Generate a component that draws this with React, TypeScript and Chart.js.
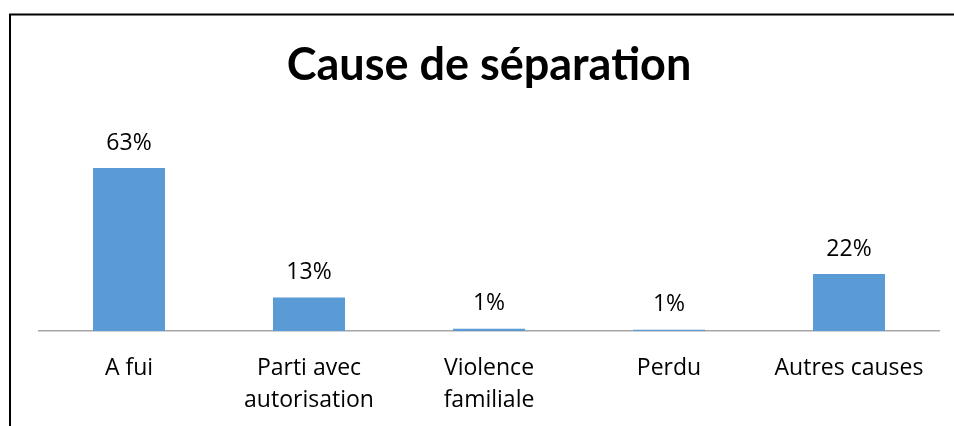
import React, { useEffect, useRef } from "react";
import { Chart, registerables } from "chart.js";

Chart.register(...registerables);

const title = "Cause de séparation";
const categories: (string | string[])[] = [
  "A fui",
  ["Parti avec", "autorisation"],
  ["Violence", "familiale"],
  "Perdu",
  "Autres causes",
];
const values = [63, 13, 0.9, 0.5, 22];
const yMax = 70;

const TITLE_FONT = "Lato, 'Noto Sans', sans-serif";
const FONT = "'Open Sans', 'Noto Sans', sans-serif";

const framePlugin = {
  id: "frame",
  beforeDraw(chart: any) {
    const ctx = chart.ctx;
    ctx.save();
    ctx.strokeStyle = "#000";
    ctx.lineWidth = 2;
    ctx.beginPath();
    ctx.moveTo(10, chart.height);
    ctx.lineTo(10, 14.5);
    ctx.lineTo(chart.width, 14.5);
    ctx.stroke();
    ctx.restore();
  },
  afterDraw(chart: any) {
    const ctx = chart.ctx;
    ctx.save();
    ctx.fillStyle = "#000";
    ctx.font = `bold 45px ${TITLE_FONT}`;
    ctx.textAlign = "center";
    ctx.textBaseline = "middle";
    ctx.fillText(title, 489, 65);
    ctx.restore();
  },
};

const labelPlugin = {
  id: "valueLabels",
  afterDatasetsDraw(chart: any) {
    const ctx = chart.ctx;
    const meta = chart.getDatasetMeta(0);
    ctx.save();
    ctx.fillStyle = "#000";
    ctx.font = `23px ${FONT}`;
    ctx.textAlign = "center";
    ctx.textBaseline = "middle";
    meta.data.forEach((bar: any, i: number) => {
      ctx.fillText(Math.round(values[i]) + "%", bar.x, bar.y - 25);
    });
    ctx.restore();
  },
};

export default function App() {
  const ref = useRef<HTMLCanvasElement>(null);
  useEffect(() => {
    if (!ref.current) return;
    const chart = new Chart(ref.current, {
      type: "bar",
      data: {
        labels: categories,
        datasets: [
          {
            data: values,
            backgroundColor: "#5B9BD5",
            categoryPercentage: 1,
            barPercentage: 0.4,
          },
        ],
      },
      options: {
        animation: false,
        responsive: false,
        maintainAspectRatio: false,
        layout: { padding: { left: 39, right: 15, top: 150, bottom: 0 } },
        plugins: {
          legend: { display: false },
          tooltip: { enabled: false },
          title: { display: false },
        },
        scales: {
          x: {
            grid: { display: false },
            border: { display: true, color: "#a6a6a6", width: 1.5 },
            ticks: {
              color: "#000",
              font: { family: FONT, size: 23, lineHeight: 1.38 },
              padding: 14,
              maxRotation: 0,
              autoSkip: false,
            },
            afterFit: (scale: any) => {
              scale.height = 95;
            },
          },
          y: {
            display: false,
            min: 0,
            max: yMax,
          },
        },
      },
      plugins: [framePlugin, labelPlugin],
    });
    return () => chart.destroy();
  }, []);
  return (
    <div style={{ position: "fixed", left: 0, top: 0, width: 954, height: 426, background: "#fff" }}>
      <canvas ref={ref} width={954} height={426} style={{ width: 954, height: 426 }} />
    </div>
  );
}
